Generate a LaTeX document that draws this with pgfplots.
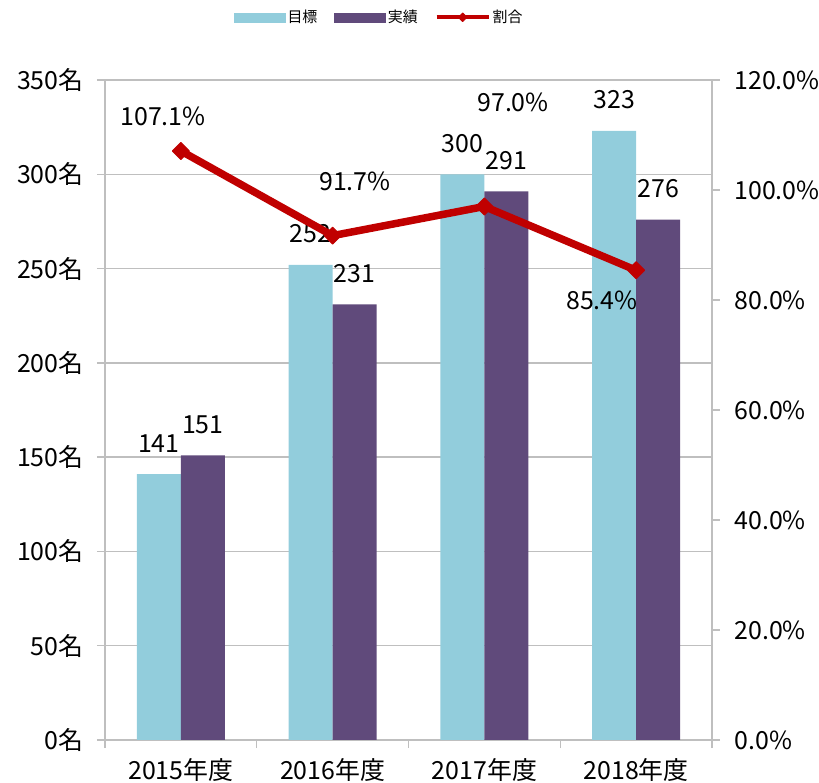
\documentclass[border=0pt]{standalone}
\usepackage{pgfplots}
\pgfplotsset{compat=1.18}
\usepackage{fontspec}
\setmainfont{Noto Sans CJK JP}
\definecolor{cA}{HTML}{92CDDC}
\definecolor{cB}{HTML}{604A7B}
\definecolor{cC}{HTML}{C00000}
\definecolor{ax}{HTML}{BFBFBF}
\begin{document}
\begin{tikzpicture}
\useasboundingbox (0,0) rectangle (819bp,783bp);
\pgfplotsset{common/.style={scale only axis, width=607bp, height=660bp,
  at={(105bp,43bp)}, anchor=south west, xmin=-0.5, xmax=3.5,
  tick align=outside, major tick length=8bp,
  /pgf/number format/assume math mode=true,
  tick label style={font=\fontsize{25}{30}\selectfont, black},
  axis line style={ax, line width=1.3bp},
  tick style={ax, line width=1.3bp}}}
\begin{axis}[common, axis x line*=bottom, axis y line*=left,
  ymin=0, ymax=350, ytick={0,50,...,350},
  yticklabels={0名,50名,100名,150名,200名,250名,300名,350名},
  yticklabel style={xshift=-10bp},
  xticklabel style={yshift=-7bp},
  ymajorgrids, grid style={ax, line width=1.3bp},
  xtick={-0.5,0.5,1.5,2.5,3.5}, x tick label as interval,
  xticklabels={2015年度,2016年度,2017年度,2018年度},
  ybar=0pt, bar width=44bp,
  nodes near coords,
  every node near coord/.append style={font=\fontsize{25}{30}\selectfont, anchor=base, yshift=22bp, black}]
\addplot[fill=cA, draw=none] coordinates {(0,141) (1,252) (2,300) (3,323)};
\addplot[fill=cB, draw=none] coordinates {(0,151) (1,231) (2,291) (3,276)};
\end{axis}
\begin{axis}[common, axis x line=none, axis y line*=right,
  ymin=0, ymax=120, ytick={0,20,...,120},
  yticklabels={0.0\%,20.0\%,40.0\%,60.0\%,80.0\%,100.0\%,120.0\%},
  yticklabel style={xshift=11bp},
  legend style={at={(0.452,1.095)}, anchor=center, draw=none, fill=none,
    legend columns=3, font=\fontsize{15}{18}\selectfont,
    /tikz/every even column/.append style={column sep=15bp}}]
\addlegendimage{legend image code/.code={\fill[cA] (0bp,-4.5bp) rectangle (51bp,4.5bp);}}
\addlegendentry{目標}
\addlegendimage{legend image code/.code={\fill[cB] (0bp,-4.5bp) rectangle (51bp,4.5bp);}}
\addlegendentry{実績}
\addplot[cC, line width=7.5bp, line join=round, mark=square*, mark size=6bp,
  mark options={rotate=45, solid, line width=1pt},
  legend image code/.code={\draw[line width=4bp, mark size=3bp, mark repeat=2, mark phase=2] plot coordinates {(0bp,0bp) (26bp,0bp) (52bp,0bp)};}]
  coordinates {(0,107.1) (1,91.7) (2,97.0) (3,85.4)};
\addlegendentry{割合}
\node[font=\fontsize{25}{30}\selectfont, anchor=center] at (axis cs:-0.118,113.3) {107.1\%};
\node[font=\fontsize{25}{30}\selectfont, anchor=center] at (axis cs:1.147,101.5) {91.7\%};
\node[font=\fontsize{25}{30}\selectfont, anchor=center] at (axis cs:2.189,116.0) {97.0\%};
\node[font=\fontsize{25}{30}\selectfont, anchor=center] at (axis cs:2.775,80.0) {85.4\%};
\end{axis}
\end{tikzpicture}
\end{document}
